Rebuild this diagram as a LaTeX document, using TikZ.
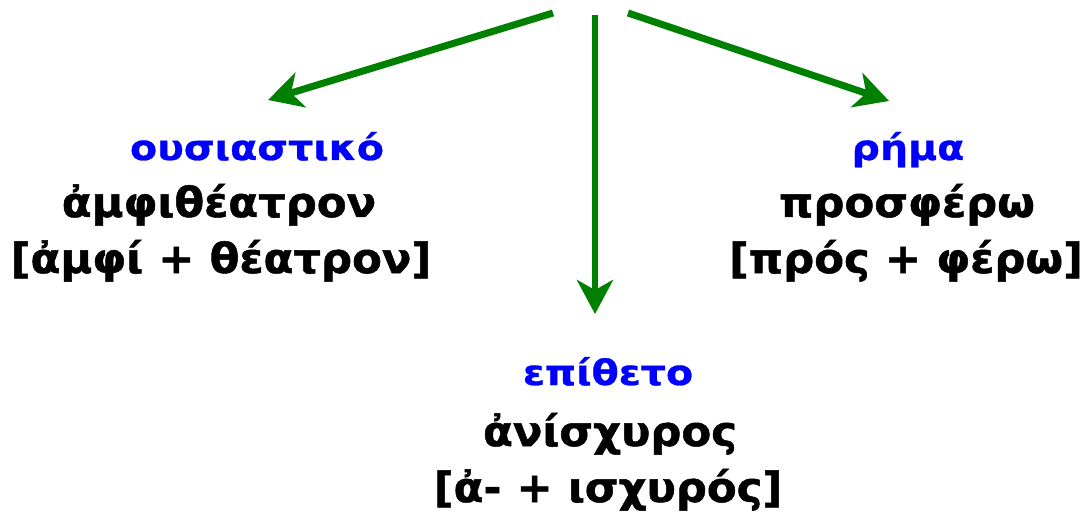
\documentclass[tikz,border=0pt]{standalone}
\usepackage{fontspec}
\setmainfont{DejaVu Sans}
\newfontfamily\blkfont{DejaVu Sans Bold}[FakeStretch=1.045,FakeBold=1.2]
\newfontfamily\catfont{DejaVu Sans Bold}[FakeStretch=1.13,FakeBold=0.8]
\usetikzlibrary{arrows.meta}
\definecolor{arrgreen}{RGB}{0,128,0}
\definecolor{catblue}{RGB}{0,0,255}
\begin{document}
\begin{tikzpicture}[x=1pt,y=-1pt,
  cat/.style={anchor=base,inner sep=0pt,text=catblue,font=\catfont\fontsize{35}{35}\selectfont},
  word/.style={anchor=base,inner sep=0pt,text=black,font=\blkfont\fontsize{41.5}{41.5}\selectfont},
  arr/.style={draw=arrgreen,line width=7pt,-{Stealth[length=34pt,width=36pt,inset=10pt]}}]
\useasboundingbox (0,0) rectangle (1092,513);
% left group
\node[cat]  (ncat) at (257,160) {ουσιαστικό};
\node[word] (nw)   at (219,217) {ἀμφιθέατρον};
\node[word] (nc)   at (221,273) {[ἀμφί + θέατρον]};
% right group
\node[cat]  (vcat) at (908,160) {ρήμα};
\node[word] (vw)   at (907,217) {προσφέρω};
\node[word] (vc)   at (906,273) {[πρός + φέρω]};
% bottom group
\node[cat]  (acat) at (608,385) {επίθετο};
\node[word] (aw)   at (610,446) {ἀνίσχυρος};
\node[word] (ac)   at (608,502) {[ἀ- + ισχυρός]};
% arrows
\coordinate (sl) at (553,13);
\coordinate (sm) at (595,15);
\coordinate (sr) at (628,13);
\coordinate (tl) at (268,100);
\coordinate (tm) at (595,314);
\coordinate (tr) at (889,101);
\draw[arr] (sl) -- (tl);
\draw[arr,line width=6pt] (sm) -- (tm);
\draw[arr] (sr) -- (tr);
\end{tikzpicture}
\end{document}
